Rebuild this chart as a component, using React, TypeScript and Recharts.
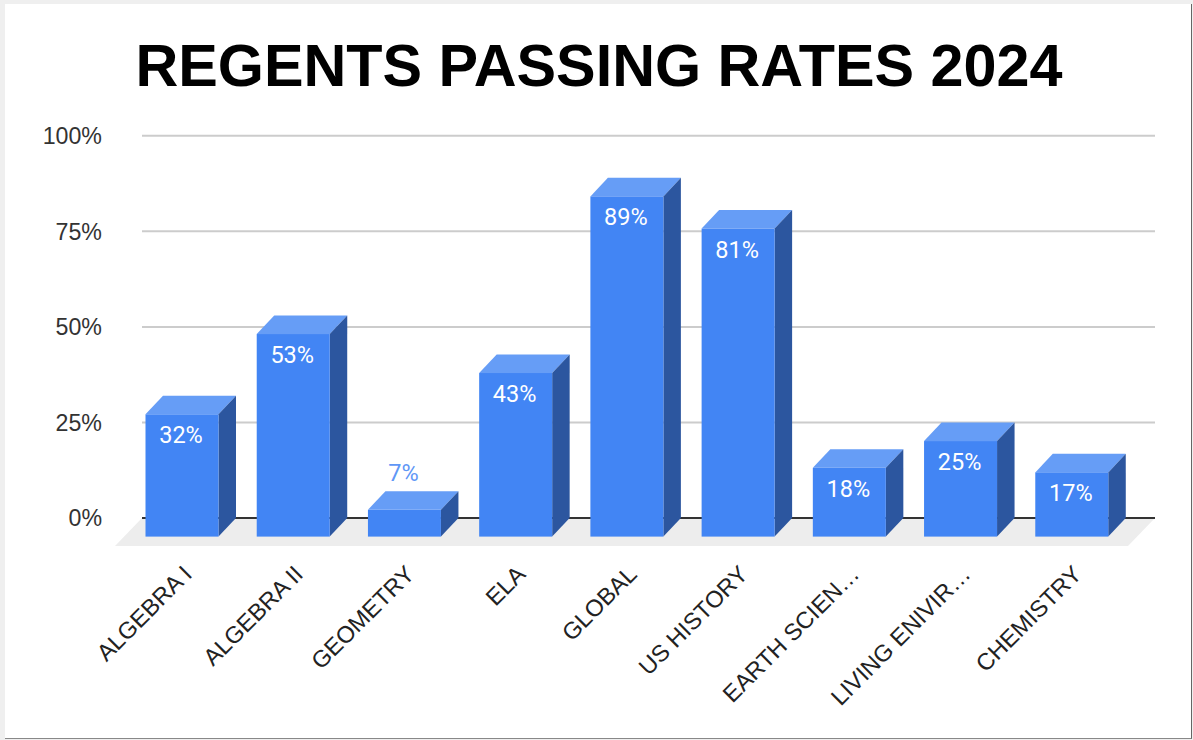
import { BarChart, Bar, XAxis, YAxis, CartesianGrid, LabelList } from "recharts";

const categories = [
  "ALGEBRA I",
  "ALGEBRA II",
  "GEOMETRY",
  "ELA",
  "GLOBAL",
  "US HISTORY",
  "EARTH SCIEN…",
  "LIVING ENIVIR…",
  "CHEMISTRY",
];
const passRates = [32, 53, 7, 42.8, 89, 80.6, 18, 25, 16.8];
const yTicks = [0, 25, 50, 75, 100];

const chartData = categories.map((name, i) => ({ name, rate: passRates[i] }));

const DEPTH_X = 17.5;
const DEPTH_Y = 18.6;
const FONT = '"Liberation Sans", Arial, sans-serif';

// front face sits down-left of the scale position, like the sheets 3d column
function Column3D(props: any) {
  const { x, y, width, height } = props;
  const fx = x - DEPTH_X;
  const fy = y + DEPTH_Y;
  const top = `${fx},${fy} ${x},${y} ${x + width},${y} ${fx + width},${fy}`;
  const side = `${fx + width},${fy} ${x + width},${y} ${x + width},${y + height} ${fx + width},${fy + height}`;
  return (
    <g>
      <polygon points={top} fill="#669df6" />
      <polygon points={side} fill="#2c569f" />
      <rect x={fx} y={fy} width={width} height={height} fill="#4285f4" />
    </g>
  );
}

// the zero grid line doubles as the floor, so it stays behind the bars
function GridLine(props: any) {
  const { x1, x2, y1, y, height } = props;
  if (Math.abs(y1 - (y + height)) < 1) {
    const floor = `${x1},${y1} ${x2},${y1} ${x2 - 27},${y1 + 28} ${x1 - 27},${y1 + 28}`;
    return (
      <g key="floor">
        <polygon points={floor} fill="#ededed" />
        <line x1={x1} y1={y1} x2={x2} y2={y1} stroke="#333" strokeWidth={2} />
      </g>
    );
  }
  return <line key={y1} x1={x1} y1={y1} x2={x2} y2={y1} stroke="#ccc" strokeWidth={2} />;
}

function RateLabel(props: any) {
  const { x, y, width, height, value } = props;
  const inside = height > 40;
  const cx = x - DEPTH_X + width / 2 - 1;
  const cy = inside ? y + DEPTH_Y + 21 : y - 18;
  return (
    <text
      x={cx}
      y={cy}
      textAnchor="middle"
      dominantBaseline="central"
      fontFamily="Roboto, sans-serif"
      fontSize={23.5}
      fill={inside ? "#ffffff" : "#5f97f6"}
    >
      {Math.round(value)}%
    </text>
  );
}

function CategoryTick(props: any) {
  const { x, y, payload } = props;
  return (
    <text
      x={0}
      y={0}
      transform={`translate(${x - 12},${y + 8}) rotate(-45)`}
      textAnchor="end"
      dominantBaseline="central"
      fontFamily={FONT}
      fontSize={23.5}
      fill="#222"
    >
      {payload.value}
    </text>
  );
}

export default function App() {
  return (
    <div style={{ position: "fixed", left: 0, top: 0, width: 1193, height: 740, background: "#efefef" }}>
      <div
        style={{
          position: "absolute",
          left: 5,
          top: 4,
          width: 1186,
          height: 734,
          background: "#fff",
          borderRight: "1px solid #666",
          borderBottom: "1px solid #888",
        }}
      />
      <div
        style={{
          position: "absolute",
          left: 0,
          top: 26,
          width: 1198,
          textAlign: "center",
          fontFamily: FONT,
          fontWeight: 700,
          fontSize: 59.3,
          lineHeight: "80px",
          color: "#000",
          whiteSpace: "nowrap",
        }}
      >
        REGENTS PASSING RATES 2024
      </div>
      <div style={{ position: "absolute", left: 0, top: 0 }}>
        <BarChart
          width={1193}
          height={740}
          data={chartData}
          margin={{ top: 135.8, right: 38, bottom: 0, left: 0 }}
          barSize={73}
        >
          <CartesianGrid horizontal={GridLine} vertical={false} />
          <XAxis
            dataKey="name"
            height={222}
            interval={0}
            axisLine={false}
            tickLine={false}
            tickSize={0}
            tickMargin={44}
            padding={{ left: 2, right: 10 }}
            tick={<CategoryTick />}
          />
          <YAxis
            width={142}
            domain={[0, 100]}
            ticks={yTicks}
            axisLine={false}
            tickLine={false}
            tickSize={0}
            tickMargin={40}
            tickFormatter={(v: number) => `${v}%`}
            tick={{ fontFamily: FONT, fontSize: 23.2, fill: "#333" }}
          />
          <Bar dataKey="rate" shape={Column3D} isAnimationActive={false}>
            <LabelList dataKey="rate" content={RateLabel} />
          </Bar>
        </BarChart>
      </div>
    </div>
  );
}
